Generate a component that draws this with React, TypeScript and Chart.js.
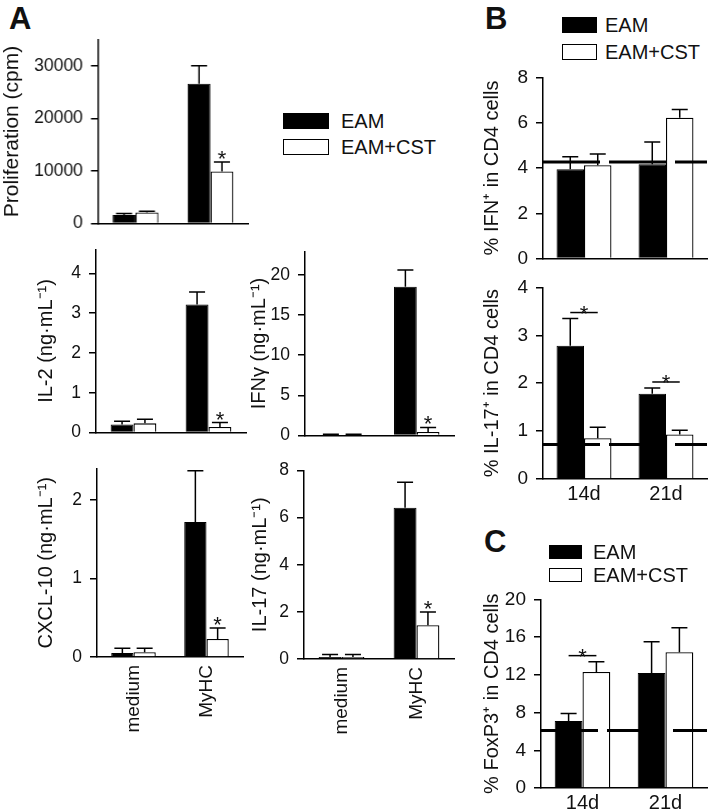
import React, { useEffect, useRef } from 'react';
import { Chart, registerables } from 'chart.js';

Chart.register(...registerables);

const FONT = "'Liberation Sans', Arial, Helvetica, sans-serif";
const INK = '#111';

Chart.defaults.font.family = FONT;
Chart.defaults.font.size = 17;
Chart.defaults.color = INK;

// ---------- series names ----------
const seriesNames = ['EAM', 'EAM+CST'];

// ---------- Panel A ----------
const aCategories = ['medium', 'MyHC'];
const aStars = [false, true];

const prolifEam = [1600, 26600];
const prolifEamErr = [1900, 30000];
const prolifCst = [2100, 9900];
const prolifCstErr = [2350, 11700];
const prolifTicks = [0, 10000, 20000, 30000];

const il2Eam = [0.2, 3.22];
const il2EamErr = [0.28, 3.53];
const il2Cst = [0.23, 0.14];
const il2CstErr = [0.33, 0.25];
const il2Ticks = [0, 1, 2, 3, 4];

const ifngEam = [0.1, 18.5];
const ifngEamErr = [0.15, 20.6];
const ifngCst = [0.1, 0.45];
const ifngCstErr = [0.15, 1.0];
const ifngTicks = [0, 5, 10, 15, 20];

const cxclEam = [0.05, 1.72];
const cxclEamErr = [0.11, 2.37];
const cxclCst = [0.06, 0.23];
const cxclCstErr = [0.11, 0.37];
const cxclTicks = [0, 1, 2];

const il17Eam = [0.08, 6.42];
const il17EamErr = [0.19, 7.5];
const il17Cst = [0.08, 1.43];
const il17CstErr = [0.19, 2.0];
const il17Ticks = [0, 2, 4, 6, 8];

// ---------- Panel B ----------
const dayCategories = ['14d', '21d'];

const ifnPctEam = [3.95, 4.17];
const ifnPctEamErr = [4.5, 5.15];
const ifnPctCst = [4.12, 6.22];
const ifnPctCstErr = [4.62, 6.58];
const ifnPctRef = 4.27;
const ifnPctTicks = [0, 2, 4, 6, 8];
const ifnPctBrackets = [false, false];

const il17PctEam = [2.78, 1.78];
const il17PctEamErr = [3.35, 1.9];
const il17PctCst = [0.85, 0.93];
const il17PctCstErr = [1.08, 1.02];
const il17PctRef = 0.72;
const il17PctTicks = [0, 1, 2, 3, 4];
const il17PctBrackets = [true, true];

// ---------- Panel C ----------
const foxEam = [7.1, 12.2];
const foxEamErr = [7.9, 15.5];
const foxCst = [12.3, 14.4];
const foxCstErr = [13.4, 17.0];
const foxRef = 6.1;
const foxTicks = [0, 4, 8, 12, 16, 20];
const foxBrackets = [true, false];

// ---------- plugin: error bars, reference line, significance ----------
const annotPlugin = {
  id: 'annot',
  afterDatasetsDraw(chart: any, _args: any, opts: any) {
    const ctx = chart.ctx;
    const y = chart.scales.y;
    const area = chart.chartArea;
    ctx.save();
    ctx.strokeStyle = '#000';
    ctx.fillStyle = INK;
    ctx.lineWidth = 1.5;
    chart.data.datasets.forEach((ds: any, di: number) => {
      const meta = chart.getDatasetMeta(di);
      meta.data.forEach((bar: any, i: number) => {
        const top = y.getPixelForValue(ds.data[i]);
        const e = y.getPixelForValue(ds.err[i]);
        ctx.beginPath();
        ctx.moveTo(bar.x, top);
        ctx.lineTo(bar.x, e);
        ctx.moveTo(bar.x - 8, e);
        ctx.lineTo(bar.x + 8, e);
        ctx.stroke();
      });
    });
    if (opts.ref !== undefined && opts.ref !== null) {
      const ry = y.getPixelForValue(opts.ref);
      ctx.save();
      ctx.lineWidth = 3;
      ctx.setLineDash([57, 9]);
      ctx.beginPath();
      ctx.moveTo(area.left, ry);
      ctx.lineTo(area.right, ry);
      ctx.stroke();
      ctx.restore();
    }
    ctx.font = `22px ${FONT}`;
    ctx.textAlign = 'center';
    ctx.textBaseline = 'alphabetic';
    const m0 = chart.getDatasetMeta(0);
    const m1 = chart.getDatasetMeta(1);
    const d0 = chart.data.datasets[0];
    const d1 = chart.data.datasets[1];
    (opts.stars || []).forEach((s: boolean, i: number) => {
      if (!s) return;
      const e = y.getPixelForValue(d1.err[i]);
      ctx.fillText('*', m1.data[i].x, e + 4);
    });
    (opts.brackets || []).forEach((s: boolean, i: number) => {
      if (!s) return;
      const e = Math.min(y.getPixelForValue(d0.err[i]), y.getPixelForValue(d1.err[i]));
      const ly = e - 6;
      const x0 = m0.data[i].x;
      const x1 = m1.data[i].x;
      ctx.beginPath();
      ctx.moveTo(x0, ly);
      ctx.lineTo(x1, ly);
      ctx.stroke();
      ctx.fillText('*', (x0 + x1) / 2, ly + 8);
    });
    ctx.restore();
  },
};

type Geom = {
  titleX: number;
  axL: number;
  axR: number;
  top: number;
  bottom: number;
  xH: number;
  catPct: number;
  showX: boolean;
  xRot: number;
  xFont: number;
  xPad: number;
  yFont: number;
  titleFont: number;
};

type PanelProps = {
  categories: string[];
  eam: number[];
  eamErr: number[];
  cst: number[];
  cstErr: number[];
  yMax: number;
  yTicks: number[];
  yTitle: string;
  refValue?: number;
  stars?: boolean[];
  brackets?: boolean[];
  geom: Geom;
};

function BarPanel(p: PanelProps) {
  const ref = useRef<HTMLCanvasElement>(null);
  const g = p.geom;
  const topPad = 12;
  const rightPad = 2;
  const left = g.titleX - g.titleFont * 0.6;
  const width = g.axR + rightPad - left;
  const ctop = g.top - topPad;
  const height = g.bottom + g.xH - ctop;

  useEffect(() => {
    const chart = new Chart(ref.current as HTMLCanvasElement, {
      type: 'bar',
      data: {
        labels: p.categories,
        datasets: [
          {
            label: seriesNames[0],
            data: p.eam,
            err: p.eamErr,
            backgroundColor: '#000',
            borderColor: '#000',
            borderWidth: 1,
          } as any,
          {
            label: seriesNames[1],
            data: p.cst,
            err: p.cstErr,
            backgroundColor: '#fff',
            borderColor: '#000',
            borderWidth: 1.3,
          } as any,
        ],
      },
      options: {
        responsive: false,
        animation: false,
        devicePixelRatio: 1,
        layout: { padding: { left: 0, right: rightPad, top: topPad, bottom: 0 } },
        datasets: { bar: { categoryPercentage: g.catPct, barPercentage: 1 } },
        plugins: {
          legend: { display: false },
          tooltip: { enabled: false },
          annot: { ref: p.refValue, stars: p.stars, brackets: p.brackets },
        } as any,
        scales: {
          x: {
            afterFit: (s: any) => {
              s.height = g.xH;
            },
            grid: { display: false, drawTicks: false },
            border: { display: true, color: '#000', width: 1.5 },
            ticks: {
              display: g.showX,
              autoSkip: false,
              minRotation: g.xRot,
              maxRotation: g.xRot,
              padding: g.xPad,
              color: INK,
              font: { family: FONT, size: g.xFont },
            },
          },
          y: {
            min: 0,
            max: p.yMax,
            afterBuildTicks: (s: any) => {
              s.ticks = p.yTicks.map((v) => ({ value: v }));
            },
            afterFit: (s: any) => {
              s.width = g.axL - left;
            },
            grid: {
              drawOnChartArea: false,
              drawTicks: true,
              tickLength: 7,
              color: '#000',
              lineWidth: 1.5,
            },
            border: { display: true, color: '#000', width: 1.5 },
            ticks: {
              padding: 8,
              color: INK,
              font: { family: FONT, size: g.yFont },
              callback: (v: any) => String(v),
            },
            title: {
              display: true,
              text: p.yTitle,
              padding: 0,
              color: INK,
              font: { family: FONT, size: g.titleFont },
            },
          },
        },
      },
      plugins: [annotPlugin],
    });
    return () => chart.destroy();
  }, []);

  return (
    <canvas
      ref={ref}
      width={width}
      height={height}
      style={{ position: 'absolute', left, top: ctop, width, height }}
    />
  );
}

function Legend(props: { x: number; y1: number; y2: number; boxW: number; boxH: number; textX: number }) {
  const { x, y1, y2, boxW, boxH, textX } = props;
  const box = (cy: number, fill: string) => ({
    position: 'absolute' as const,
    left: x,
    top: cy - boxH / 2,
    width: boxW,
    height: boxH,
    boxSizing: 'border-box' as const,
    border: '1.5px solid #000',
    background: fill,
  });
  const txt = (cy: number) => ({
    position: 'absolute' as const,
    left: textX,
    top: cy - 10,
    fontSize: 20,
    lineHeight: '20px',
    fontFamily: FONT,
    color: INK,
    whiteSpace: 'nowrap' as const,
  });
  return (
    <>
      <div style={box(y1, '#000')} />
      <div style={txt(y1)}>{seriesNames[0]}</div>
      <div style={box(y2, '#fff')} />
      <div style={txt(y2)}>{seriesNames[1]}</div>
    </>
  );
}

function Letter(props: { x: number; y: number; text: string }) {
  return (
    <div
      style={{
        position: 'absolute',
        left: props.x,
        top: props.y,
        fontSize: 31,
        lineHeight: '31px',
        fontWeight: 'bold',
        fontFamily: FONT,
        color: INK,
      }}
    >
      {props.text}
    </div>
  );
}

const topGeom = (titleX: number, axL: number, axR: number, top: number, bottom: number): Geom => ({
  titleX, axL, axR, top, bottom, xH: 12, catPct: 0.61, showX: false, xRot: 0, xFont: 19, xPad: 0, yFont: 17.5, titleFont: 20,
});
const botGeom = (titleX: number, axL: number, axR: number, top: number, bottom: number): Geom => ({
  titleX, axL, axR, top, bottom, xH: 78, catPct: 0.61, showX: true, xRot: 90, xFont: 19, xPad: 8, yFont: 17.5, titleFont: 20,
});
const dayGeom = (axL: number, top: number, bottom: number, showX: boolean): Geom => ({
  titleX: 492, axL, axR: 707, top, bottom, xH: showX ? 24 : 12, catPct: 0.67, showX, xRot: 0, xFont: 20, xPad: 3, yFont: 19, titleFont: 20,
});

export default function App() {
  return (
    <div
      style={{
        position: 'absolute',
        left: 0,
        top: 0,
        width: 709,
        height: 812,
        overflow: 'hidden',
        background: '#fff',
        fontFamily: FONT,
      }}
    >
      <Letter x={9} y={3} text="A" />
      <Letter x={485} y={3} text="B" />
      <Letter x={484} y={526} text="C" />

      <BarPanel
        categories={aCategories}
        eam={prolifEam}
        eamErr={prolifEamErr}
        cst={prolifCst}
        cstErr={prolifCstErr}
        yMax={35000}
        yTicks={prolifTicks}
        yTitle="Proliferation (cpm)"
        stars={aStars}
        geom={{ ...topGeom(13, 98, 248, 33, 230), titleFont: 21 }}
      />
      <Legend x={283} y1={121} y2={147} boxW={46} boxH={16} textX={341} />

      <BarPanel
        categories={aCategories}
        eam={il2Eam}
        eamErr={il2EamErr}
        cst={il2Cst}
        cstErr={il2CstErr}
        yMax={4.6}
        yTicks={il2Ticks}
        yTitle="IL-2 (ng·mL⁻¹)"
        stars={aStars}
        geom={topGeom(46, 96, 246, 243, 439)}
      />
      <BarPanel
        categories={aCategories}
        eam={ifngEam}
        eamErr={ifngEamErr}
        cst={ifngCst}
        cstErr={ifngCstErr}
        yMax={22.9}
        yTicks={ifngTicks}
        yTitle="IFNγ (ng·mL⁻¹)"
        stars={aStars}
        geom={topGeom(259, 305, 454, 245, 442)}
      />
      <BarPanel
        categories={aCategories}
        eam={cxclEam}
        eamErr={cxclEamErr}
        cst={cxclCst}
        cstErr={cxclCstErr}
        yMax={2.4}
        yTicks={cxclTicks}
        yTitle="CXCL-10 (ng·mL⁻¹)"
        stars={aStars}
        geom={botGeom(46, 97, 243, 462, 657)}
      />
      <BarPanel
        categories={aCategories}
        eam={il17Eam}
        eamErr={il17EamErr}
        cst={il17Cst}
        cstErr={il17CstErr}
        yMax={8}
        yTicks={il17Ticks}
        yTitle="IL-17 (ng·mL⁻¹)"
        stars={aStars}
        geom={botGeom(260, 304, 454, 464, 659)}
      />

      <Legend x={562} y1={25} y2={52} boxW={35} boxH={16} textX={605} />
      <BarPanel
        categories={dayCategories}
        eam={ifnPctEam}
        eamErr={ifnPctEamErr}
        cst={ifnPctCst}
        cstErr={ifnPctCstErr}
        yMax={8}
        yTicks={ifnPctTicks}
        yTitle="% IFN⁺ in CD4 cells"
        refValue={ifnPctRef}
        brackets={ifnPctBrackets}
        geom={dayGeom(543, 70, 266, false)}
      />
      <BarPanel
        categories={dayCategories}
        eam={il17PctEam}
        eamErr={il17PctEamErr}
        cst={il17PctCst}
        cstErr={il17PctCstErr}
        yMax={4}
        yTicks={il17PctTicks}
        yTitle="% IL-17⁺ in CD4 cells"
        refValue={il17PctRef}
        brackets={il17PctBrackets}
        geom={dayGeom(543, 280, 479, true)}
      />

      <Legend x={549} y1={552} y2={575} boxW={33} boxH={14} textX={593} />
      <BarPanel
        categories={dayCategories}
        eam={foxEam}
        eamErr={foxEamErr}
        cst={foxCst}
        cstErr={foxCstErr}
        yMax={20}
        yTicks={foxTicks}
        yTitle="% FoxP3⁺ in CD4 cells"
        refValue={foxRef}
        brackets={foxBrackets}
        geom={dayGeom(541, 592, 788, true)}
      />
    </div>
  );
}
